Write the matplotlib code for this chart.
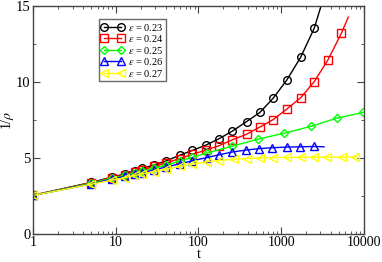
import matplotlib
matplotlib.use("Agg")
import matplotlib.pyplot as plt
from matplotlib.ticker import MultipleLocator, LogLocator, NullFormatter, FixedLocator, FixedFormatter

plt.rcParams['font.family'] = ['Liberation Serif', 'DejaVu Serif']
plt.rcParams['mathtext.fontset'] = 'stix'

# dados
t_23 = [1, 5, 9, 13, 17, 21, 29, 41, 59, 84, 123, 179, 257, 384, 556, 805, 1170, 1727, 2523, 3300]
y_23 = [2.56, 3.40, 3.75, 3.97, 4.16, 4.32, 4.55, 4.82, 5.18, 5.50, 5.85, 6.28, 6.77, 7.40, 8.00, 8.94, 10.11, 11.62, 13.53, 15.6]

t_24 = [1, 5, 9, 13, 17, 21, 29, 41, 59, 84, 123, 179, 257, 384, 556, 805, 1170, 1727, 2523, 3664, 5355, 6510]
y_24 = [2.56, 3.38, 3.72, 3.92, 4.09, 4.23, 4.45, 4.68, 4.97, 5.24, 5.52, 5.82, 6.20, 6.57, 7.04, 7.53, 8.21, 8.96, 10.02, 11.41, 13.18, 14.25]

t_25 = [1, 5, 9, 13, 17, 21, 29, 41, 59, 84, 126, 257, 530, 1094, 2280, 4710, 9890]
y_25 = [2.55, 3.35, 3.68, 3.86, 4.01, 4.13, 4.33, 4.55, 4.80, 5.05, 5.33, 5.78, 6.25, 6.63, 7.08, 7.62, 8.00]

t_26 = [1, 5, 9, 13, 17, 21, 29, 41, 59, 84, 126, 179, 257, 372, 541, 783, 1170, 1695, 2523, 3310]
y_26 = [2.55, 3.30, 3.62, 3.80, 3.95, 4.05, 4.22, 4.42, 4.62, 4.82, 5.03, 5.22, 5.40, 5.52, 5.62, 5.68, 5.72, 5.74, 5.76, 5.74]

t_27 = [1, 5, 9, 13, 17, 21, 29, 41, 59, 84, 126, 179, 269, 384, 556, 805, 1189, 1727, 2500, 3623, 5420, 7830, 8200]
y_27 = [2.55, 3.28, 3.55, 3.72, 3.86, 3.96, 4.10, 4.27, 4.45, 4.60, 4.75, 4.84, 4.92, 4.97, 5.00, 5.03, 5.04, 5.05, 5.06, 5.06, 5.06, 5.06, 5.06]

x_ticks = [1, 10, 100, 1000, 10000]
x_labels = ["1", "10", "100", "1000", "10000"]

fig = plt.figure(figsize=(3.82, 2.62), dpi=100)
ax = fig.add_axes([0.087, 0.106, 0.865, 0.872])

series = [
    (t_23, y_23, "black", "o", r"$\epsilon$ = 0.23", True),
    (t_24, y_24, "red", "s", r"$\epsilon$ = 0.24", True),
    (t_25, y_25, "#00ff00", "D", r"$\epsilon$ = 0.25", False),
    (t_26, y_26, "blue", "^", r"$\epsilon$ = 0.26", True),
    (t_27, y_27, "#ffff00", "<", r"$\epsilon$ = 0.27", True),
]
for t, y, cor, mk, lab, tem_fim in series:
    n = len(t)
    idx = list(range(n - 1)) if tem_fim else list(range(n))
    ms = 4.5 if mk == "D" else 5.5
    ax.plot(t, y, color=cor, lw=1.0, marker=mk, markersize=ms, markerfacecolor="none",
            markeredgecolor=cor, markeredgewidth=1.0, markevery=idx, label=lab)

ax.set_xscale("log")
ax.set_xlim(1, 10000)
ax.set_ylim(0, 15)
ax.xaxis.set_major_locator(FixedLocator(x_ticks))
ax.xaxis.set_major_formatter(FixedFormatter(x_labels))
ax.xaxis.set_minor_locator(LogLocator(base=10, subs=range(2, 10)))
ax.xaxis.set_minor_formatter(NullFormatter())
ax.yaxis.set_major_locator(MultipleLocator(5))
ax.yaxis.set_minor_locator(MultipleLocator(2.5))

ax.tick_params(which="both", direction="in", top=True, right=True, labelsize=10.5, pad=2, color="#444444")
ax.tick_params(axis="x", labelsize=10, pad=1.5)
ax.tick_params(which="major", length=5)
ax.tick_params(which="minor", length=2.5)
for s in ax.spines.values():
    s.set_color("#444444")
    s.set_linewidth(1.0)

ax.set_xlabel("t", fontsize=10, labelpad=-1)
ax.set_ylabel(r"1/$\rho$", fontsize=10)
ax.yaxis.set_label_coords(-0.052, 0.5)

leg = ax.legend(loc="upper left", bbox_to_anchor=(0.198, 0.94), numpoints=2, fontsize=7.5,
                frameon=True, fancybox=False, handlelength=2.2, handletextpad=0.45,
                borderpad=0.2, labelspacing=0.05, borderaxespad=0)
leg.get_frame().set_edgecolor("#444444")
leg.get_frame().set_linewidth(1.0)

plt.savefig("out.png", dpi=100)
